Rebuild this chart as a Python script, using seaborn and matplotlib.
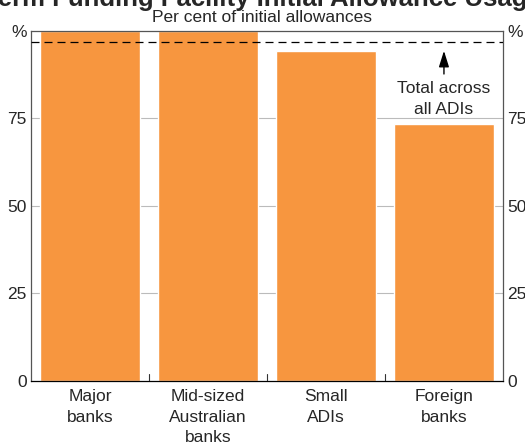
import matplotlib
matplotlib.use('Agg')
import matplotlib.pyplot as plt
import pandas as pd
import seaborn as sns

# Data
categories = ['Major\nbanks', 'Mid-sized\nAustralian\nbanks', 'Small\nADIs', 'Foreign\nbanks']
usage = [100, 100, 94.3, 73.4]
total_all_adis = 96.9
ytick_vals = [0, 25, 50, 75, 100]
ytick_labels = ['0', '25', '50', '75', '%']

df = pd.DataFrame({'category': categories, 'usage': usage})

sns.set_style('white')
plt.rcParams['font.family'] = ['Liberation Sans', 'DejaVu Sans']

fs = 12.5
fig = plt.figure(figsize=(5.25, 4.46), dpi=100)
ax = fig.add_axes([0.059, 0.1457, 0.899, 0.785])

sns.barplot(data=df, x='category', y='usage', color='#F7963F', saturation=1,
            width=0.85, ax=ax, zorder=2)

ax.set_xlim(-0.5, 3.5)
ax.set_ylim(0, 100)
ax.set_xlabel('')
ax.set_ylabel('')

# gridlines
for v in [25, 50, 75]:
    ax.axhline(v, color='#BBBBBB', linewidth=0.8, zorder=1)

# total line and annotation
ax.axhline(total_all_adis, color='black', linestyle=(0, (6.4, 4)), linewidth=0.9, zorder=3)
ax.annotate('', xy=(3, 95.1), xytext=(3, 86.9),
            arrowprops=dict(arrowstyle='-|>,head_length=0.7,head_width=0.22',
                            color='black', lw=1, mutation_scale=14))
ax.text(3, 85.6, 'Total across\nall ADIs', ha='center', va='top',
        fontsize=fs, linespacing=1.45)

ax.set_yticks(ytick_vals)
ax.set_yticklabels(ytick_labels, fontsize=fs)
ax.tick_params(axis='y', length=0, pad=3, labelright=True, right=False)

ax.set_xticks([0, 1, 2, 3])
ax.set_xticklabels(categories, fontsize=fs, linespacing=1.45)
ax.tick_params(axis='x', length=0, pad=6)
for b in [0.5, 1.5, 2.5]:
    ax.plot([b, b], [0, 2], color='#333333', linewidth=0.8, zorder=4)

for s in ax.spines.values():
    s.set_visible(True)
    s.set_color('#555555')
    s.set_linewidth(0.9)
ax.spines['bottom'].set_color('black')

fig.text(0.5, 0.986, 'Term Funding Facility Initial Allowance Usage', ha='center', va='baseline',
         fontsize=18.5, fontweight='bold')
fig.text(0.5, 0.961, 'Per cent of initial allowances', ha='center', va='center', fontsize=fs)

fig.savefig('out.png', dpi=100)
